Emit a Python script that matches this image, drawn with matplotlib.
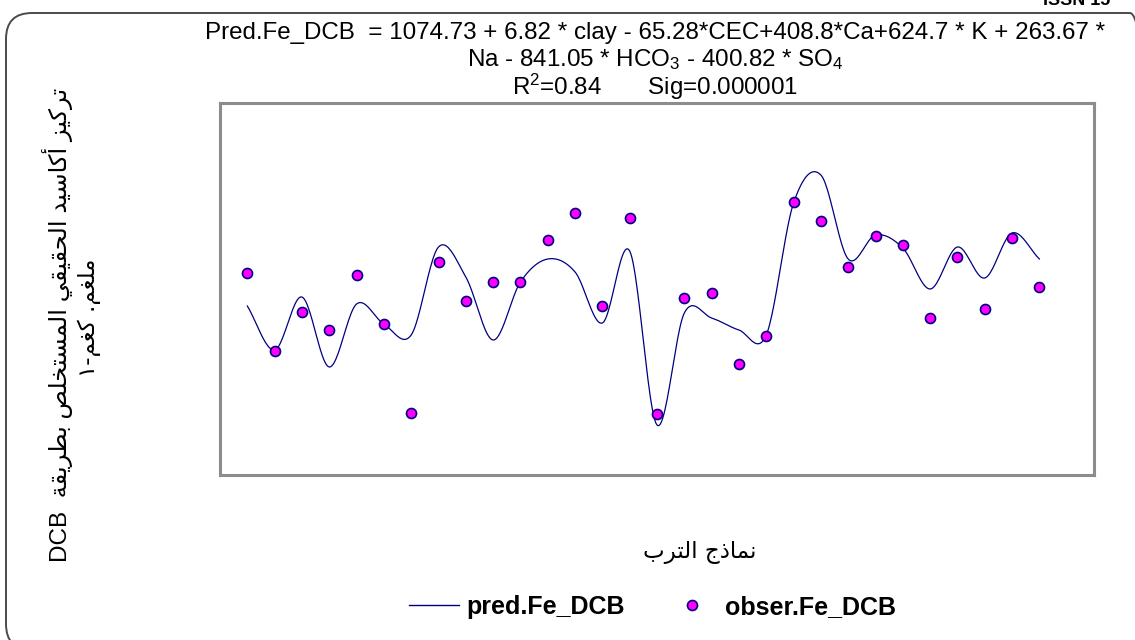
import numpy as np
import matplotlib
matplotlib.use("Agg")
import matplotlib.pyplot as plt
from matplotlib.lines import Line2D
from matplotlib.patches import FancyBboxPatch

# ---------------- data (arbitrary units, no y ticks) -------------
samples = list(range(1, 31))
observed = [202, 124, 163, 145, 200, 151, 62, 213, 174, 193,
            193, 235, 262, 169, 257, 61, 177, 182, 111, 139,
            273, 254, 208, 239, 230, 157, 218, 166, 237, 188]
predicted = [169, 125, 178, 108, 171, 151, 140, 228, 198, 135,
             193, 216, 203, 152, 224, 50, 162, 157, 145, 140,
             272, 300, 216, 240, 227, 186, 228, 197, 242, 216]

title_lines = [
    r"Pred.Fe_DCB  = 1074.73 + 6.82 * clay - 65.28*CEC+408.8*Ca+624.7 * K + 263.67 *",
    r"Na - 841.05 * HCO$_3$ - 400.82 * SO$_4$",
    r"R$^2$=0.84       Sig=0.000001",
]
ylabel_line1 = "تركيز أكاسيد الحقيقي المستخلص بطريقة  DCB"
ylabel_line2 = "ملغم. كغم-١"
xlabel_text = "نماذج الترب"
legend_labels = ["pred.Fe_DCB", "obser.Fe_DCB"]

# ---------------- minimal Arabic shaping + visual ordering -------------------------------
FORMS = {  # isolated, final, initial, medial
    'ا': ('\uFE8D', '\uFE8E', None, None),
    'أ': ('\uFE83', '\uFE84', None, None),
    'ب': ('\uFE8F', '\uFE90', '\uFE91', '\uFE92'),
    'ة': ('\uFE93', '\uFE94', None, None),
    'ت': ('\uFE95', '\uFE96', '\uFE97', '\uFE98'),
    'ج': ('\uFE9D', '\uFE9E', '\uFE9F', '\uFEA0'),
    'ح': ('\uFEA1', '\uFEA2', '\uFEA3', '\uFEA4'),
    'خ': ('\uFEA5', '\uFEA6', '\uFEA7', '\uFEA8'),
    'د': ('\uFEA9', '\uFEAA', None, None),
    'ذ': ('\uFEAB', '\uFEAC', None, None),
    'ر': ('\uFEAD', '\uFEAE', None, None),
    'ز': ('\uFEAF', '\uFEB0', None, None),
    'س': ('\uFEB1', '\uFEB2', '\uFEB3', '\uFEB4'),
    'ص': ('\uFEB9', '\uFEBA', '\uFEBB', '\uFEBC'),
    'ط': ('\uFEC1', '\uFEC2', '\uFEC3', '\uFEC4'),
    'غ': ('\uFECD', '\uFECE', '\uFECF', '\uFED0'),
    'ق': ('\uFED5', '\uFED6', '\uFED7', '\uFED8'),
    'ك': ('\uFED9', '\uFEDA', '\uFEDB', '\uFEDC'),
    'ل': ('\uFEDD', '\uFEDE', '\uFEDF', '\uFEE0'),
    'م': ('\uFEE1', '\uFEE2', '\uFEE3', '\uFEE4'),
    'ن': ('\uFEE5', '\uFEE6', '\uFEE7', '\uFEE8'),
    'ي': ('\uFEF1', '\uFEF2', '\uFEF3', '\uFEF4'),
}


def shape_word(w):
    out = []
    for i, ch in enumerate(w):
        if ch not in FORMS:
            out.append(ch)
            continue
        prev = w[i - 1] if i > 0 else None
        nxt = w[i + 1] if i + 1 < len(w) else None
        jp = prev in FORMS and FORMS[prev][2] is not None
        jn = nxt in FORMS and FORMS[ch][2] is not None
        iso, fin, ini, med = FORMS[ch]
        if jp and jn:
            out.append(med)
        elif jp:
            out.append(fin)
        elif jn:
            out.append(ini)
        else:
            out.append(iso)
    return "".join(out)


def is_arabic(tok):
    return any('\u0600' <= c <= '\u06FF' for c in tok)


def visual(s):
    toks = s.split(' ')
    res = []
    for t in reversed(toks):
        if is_arabic(t):
            res.append(shape_word(t)[::-1])
        else:
            res.append(t)
    return ' '.join(res)


# ---------------- figure -----------------------------------------------------------------
plt.rcParams['mathtext.fontset'] = 'custom'
plt.rcParams['mathtext.rm'] = 'Liberation Sans'
plt.rcParams['mathtext.it'] = 'Liberation Sans:italic'
plt.rcParams['mathtext.bf'] = 'Liberation Sans:bold'
plt.rcParams['font.family'] = ['Liberation Sans', 'DejaVu Sans']

W, H = 1135, 640
fig = plt.figure(figsize=(W / 100, H / 100), dpi=100)

# outer rounded frame
frame = FancyBboxPatch((0.06, -0.10), 11.5, 6.37,
                       boxstyle="round,pad=0,rounding_size=0.26",
                       transform=fig.dpi_scale_trans, fill=False,
                       edgecolor='#4a4a4a', linewidth=1.4, zorder=0)
fig.patches.append(frame)

ax = fig.add_axes([220 / W, 1 - 475 / H, (1094 - 220) / W, (475 - 103) / H])


def catmull(xs, ys, n=24):
    xs = np.asarray(xs, float)
    ys = np.asarray(ys, float)
    px = np.concatenate([[2 * xs[0] - xs[1]], xs, [2 * xs[-1] - xs[-2]]])
    py = np.concatenate([[2 * ys[0] - ys[1]], ys, [2 * ys[-1] - ys[-2]]])
    ox, oy = [], []
    t = np.linspace(0, 1, n, endpoint=False)
    for i in range(1, len(px) - 2):
        p0, p1, p2, p3 = py[i - 1], py[i], py[i + 1], py[i + 2]
        q0, q1, q2, q3 = px[i - 1], px[i], px[i + 1], px[i + 2]
        f = lambda a0, a1, a2, a3: 0.5 * ((2 * a1) + (-a0 + a2) * t +
                                        (2 * a0 - 5 * a1 + 4 * a2 - a3) * t ** 2 +
                                        (-a0 + 3 * a1 - 3 * a2 + a3) * t ** 3)
        ox.append(f(q0, q1, q2, q3))
        oy.append(f(p0, p1, p2, p3))
    ox.append([xs[-1]])
    oy.append([ys[-1]])
    return np.concatenate(ox), np.concatenate(oy)


sx, sy = catmull(samples, predicted)
ax.plot(sx, sy, color='#000080', linewidth=0.9, zorder=2)
ax.plot(samples, observed, linestyle='none', marker='o', markersize=7.2,
        markerfacecolor='#FF00FF', markeredgecolor='#000080',
        markeredgewidth=1.2, zorder=3)

ax.set_xlim(0, 32)
ax.set_ylim(0, 372)
ax.set_xticks([])
ax.set_yticks([])
for sp in ax.spines.values():
    sp.set_color('#8c8c8c')
    sp.set_linewidth(2.2)

# title lines
for txt, yp in zip(title_lines, [33, 60, 87]):
    fig.text(655 / W, 1 - yp / H, txt, ha='center', va='center',
             fontsize=17.4, color='black')

# y label (two lines, rotated)
fig.text(58 / W, 1 - 325 / H, visual(ylabel_line1), rotation=90,
         ha='center', va='center', fontsize=17.5,
         family=['Liberation Sans', 'DejaVu Sans'])
fig.text(89 / W, 1 - 318 / H, visual(ylabel_line2), rotation=90,
         ha='center', va='center', fontsize=16.5,
         family=['DejaVu Sans'])

# x label
fig.text(700 / W, 1 - 553 / H, visual(xlabel_text), ha='center', va='center',
         fontsize=16.5, family=['DejaVu Sans'])

# ISSN fragment at top right (cut by the edge, as in the source page)
fig.text(1043 / W, 1 - 5 / H, "ISSN 15", ha='left', va='baseline',
         fontsize=13, fontweight='bold')

# legend
handles = [Line2D([], [], color='#000080', linewidth=1.0),
           Line2D([], [], linestyle='none', marker='o', markersize=7.2,
                  markerfacecolor='#FF00FF', markeredgecolor='#000080',
                  markeredgewidth=1.2)]
fig.legend(handles, legend_labels, loc='center', bbox_to_anchor=(652 / W, 1 - 607 / H),
           ncol=2, frameon=False, handlelength=2.0, handletextpad=0.3,
           columnspacing=1.7, prop={'weight': 'bold', 'size': 18})

fig.savefig("out.png", dpi=100)
